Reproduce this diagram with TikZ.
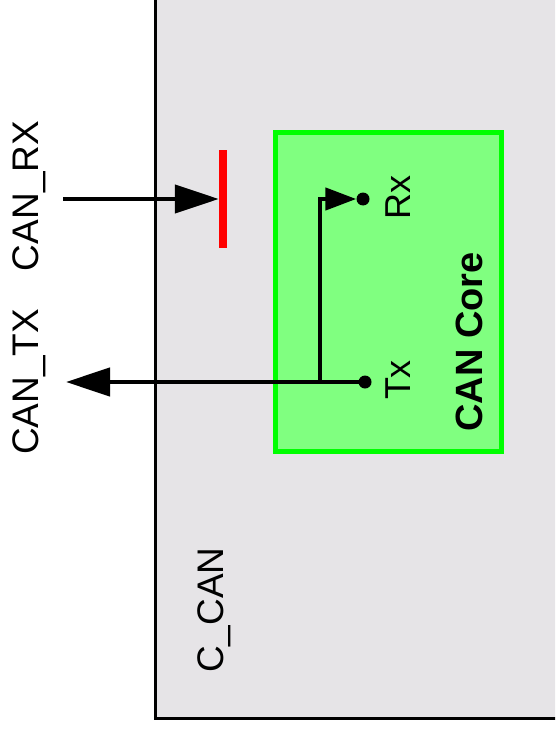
\documentclass[tikz,border=0pt]{standalone}
\usepackage{fontspec}
\setmainfont{Liberation Sans}
\usetikzlibrary{arrows.meta}
\definecolor{boxgray}{HTML}{E6E4E7}
\definecolor{coregreen}{HTML}{80FF80}
\definecolor{coreborder}{HTML}{00FF00}
\begin{document}
\begin{tikzpicture}[x=1pt,y=-1pt,
  lbl/.style={rotate=90,font=\fontsize{37}{42}\selectfont,inner sep=0pt},
  pinlbl/.style={rotate=90,font=\fontsize{36}{40}\selectfont,inner sep=0pt},
  pindot/.style={circle,fill=black,inner sep=0pt,minimum size=13pt},
  wire/.style={line width=4.5pt},
  bigtip/.style={-{Triangle[length=44pt,width=28pt]}},
  smalltip/.style={-{Triangle[length=31pt,width=22pt]}}]
\useasboundingbox (0,0) rectangle (555,733);
\clip (0,0) rectangle (555,733);
% outer C_CAN block
\draw[fill=boxgray,line width=3pt] (155,-20) rectangle (600,718);
% CAN core
\node[draw=coreborder,fill=coregreen,line width=5pt,minimum width=226pt,minimum height=319pt,inner sep=0pt,anchor=north west] (core) at (273,130) {};
% red barrier
\node[fill=red,minimum width=8pt,minimum height=98pt,inner sep=0pt] (bar) at (223,199) {};
% pins
\node[pindot] (rxdot) at (363,199) {};
\node[pindot] (txdot) at (365,382) {};
\coordinate (rxin) at (63,199);
\coordinate (txout) at (66,382);
\coordinate (branch) at (320,382);
% wires
\draw[wire,bigtip] (rxin) -- (bar.west);
\draw[wire,bigtip] (txdot.center) -- (txout);
\draw[wire,smalltip] (branch) |- (rxdot.west);
% labels
\node[lbl] (canrx) at (29,196) {CAN\_RX};
\node[lbl] (cantx) at (29,382) {CAN\_TX};
\node[lbl] (ccan) at (214,610) {C\_CAN};
\node[pinlbl] (rxl) at (398,197) {Rx};
\node[pinlbl] (txl) at (398,380) {Tx};
\node[lbl,font=\fontsize{38}{42}\selectfont\bfseries] (corel) at (469,342) {CAN Core};
\end{tikzpicture}
\end{document}
